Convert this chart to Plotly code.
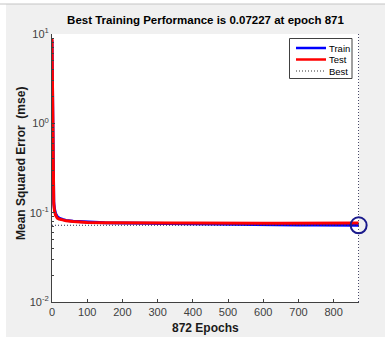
import plotly.graph_objects as go

epochs = [0, 1, 2, 3, 4, 5, 7, 10, 15, 20, 30, 40, 60, 80, 100, 150, 200, 250, 300,
          350, 400, 450, 500, 550, 600, 650, 700, 750, 800, 850, 871]
train = [8.5, 2.0, 0.6, 0.25, 0.16, 0.13, 0.11, 0.098, 0.090, 0.087, 0.084, 0.082, 0.080,
         0.079, 0.078, 0.077, 0.0765, 0.076, 0.0758, 0.0755, 0.0752, 0.0748, 0.074, 0.0735,
         0.0732, 0.073, 0.0729, 0.0728, 0.0727, 0.0725, 0.07227]
test = [9.0, 2.2, 0.65, 0.26, 0.16, 0.125, 0.105, 0.094, 0.087, 0.085, 0.083, 0.081, 0.0795,
        0.0785, 0.0778, 0.0772, 0.0768, 0.0765, 0.0765, 0.0766, 0.0768, 0.0770, 0.0768,
        0.0765, 0.0763, 0.0762, 0.0763, 0.0764, 0.0765, 0.0766, 0.0767]
best_epoch = 871
best_perf = 0.07227
n_epochs = 872
x_ticks = [0, 100, 200, 300, 400, 500, 600, 700, 800]
y_ticks = [0.01, 0.1, 1, 10]
y_ticktext = ["10<sup>-2</sup>", "10<sup>-1</sup>", "10<sup>0</sup>", "10<sup>1</sup>"]
y_minor = [0.02, 0.03, 0.04, 0.05, 0.06, 0.07, 0.08, 0.09,
           0.2, 0.3, 0.4, 0.5, 0.6, 0.7, 0.8, 0.9,
           2, 3, 4, 5, 6, 7, 8, 9]
legend_names = ["Train", "Test", "Best"]
legend_colors = ["#0000ff", "#ff0000", "#333333"]

FONT = "Liberation Sans, Arial, sans-serif"
W, H = 385, 339
ml, mr, mt, mb = 52, 26, 34, 37
pw, ph = W - ml - mr, H - mt - mb


def px(xp):
    return (xp - ml) / pw


def py(yp):
    return (H - mb - yp) / ph


fig = go.Figure()
fig.add_trace(go.Scatter(x=epochs, y=train, mode="lines", name="Train",
                         line=dict(color="#0000ff", width=3)))
fig.add_trace(go.Scatter(x=epochs, y=test, mode="lines", name="Test",
                         line=dict(color="#ff0000", width=3)))
fig.add_trace(go.Scatter(x=[0, n_epochs, None, best_epoch, best_epoch],
                         y=[best_perf, best_perf, None, 0.01, 10],
                         mode="lines", name="Best",
                         line=dict(color="#2a2a50", width=1, dash="1px,2px")))
fig.add_trace(go.Scatter(x=[best_epoch], y=[best_perf], mode="markers",
                         cliponaxis=False,
                         marker=dict(symbol="circle-open", size=16,
                                     line=dict(color="#1a1a8c", width=2), color="#1a1a8c")))

shapes = [
    dict(type="rect", xref="paper", yref="paper", x0=px(0), x1=px(6), y0=py(H), y1=py(0),
         fillcolor="white", line=dict(width=0), layer="below"),
    dict(type="rect", xref="paper", yref="paper", x0=px(0), x1=px(W), y0=py(4), y1=py(0),
         fillcolor="white", line=dict(width=0), layer="below"),
    dict(type="rect", xref="paper", yref="paper", x0=px(0), x1=px(W), y0=py(H), y1=py(337),
         fillcolor="white", line=dict(width=0), layer="below"),
    dict(type="line", xref="paper", yref="paper", x0=px(0), x1=px(W), y0=py(4), y1=py(4),
         line=dict(color="#c4c4c4", width=1), layer="below"),
    # legend box
    dict(type="rect", xref="paper", yref="paper", x0=px(289.5), x1=px(352), y0=py(78.5), y1=py(38.5),
         fillcolor="white", line=dict(color="#404040", width=1), layer="above"),
]
annotations = []
legend_y = [48, 59.5, 71]
for name, col, ly in zip(legend_names, legend_colors, legend_y):
    if name == "Best":
        ln = dict(color="#333333", width=1, dash="1px,2px")
    else:
        ln = dict(color=col, width=2.5)
    shapes.append(dict(type="line", xref="paper", yref="paper", x0=px(296), x1=px(326),
                       y0=py(ly), y1=py(ly), line=ln, layer="above"))
    annotations.append(dict(text=name, xref="paper", yref="paper", x=px(327), y=py(ly),
                            xanchor="left", yanchor="middle", showarrow=False,
                            font=dict(size=9.5, color="#000000", family=FONT)))

annotations.append(dict(text="<b>Mean Squared Error  (mse)</b>", xref="paper", yref="paper",
                        x=px(21), y=py(164), textangle=-90, showarrow=False,
                        xanchor="center", yanchor="middle",
                        font=dict(size=12, color="#1a1a1a", family=FONT)))
annotations.append(dict(text="<b>872 Epochs</b>", xref="paper", yref="paper",
                        x=px(205.5), y=py(328), showarrow=False,
                        xanchor="center", yanchor="middle",
                        font=dict(size=12, color="#1a1a1a", family=FONT)))

fig.update_layout(
    width=W, height=H,
    margin=dict(l=ml, r=mr, t=mt, b=mb),
    paper_bgcolor="#f0f0f0", plot_bgcolor="white",
    font=dict(family=FONT, color="#262626", size=11),
    title=dict(text="<b>Best Training Performance is 0.07227 at epoch 871</b>",
               x=px(205.5), xref="paper", xanchor="center",
               y=1 - 20 / H, yanchor="middle",
               font=dict(size=11.5, color="#000000")),
    showlegend=False,
    shapes=shapes,
    annotations=annotations,
)
fig.update_xaxes(range=[0, n_epochs], tickvals=x_ticks, ticks="inside", ticklen=3,
                 tickcolor="#404040", showline=True, linecolor="#404040", linewidth=1,
                 showgrid=False, zeroline=False, automargin=False,
                 tickfont=dict(size=11, color="#404040"))
fig.update_yaxes(type="log", range=[-2, 1], tickvals=y_ticks, ticktext=y_ticktext,
                 ticks="inside", ticklen=3, tickcolor="#404040",
                 minor=dict(tickvals=y_minor, ticks="inside", ticklen=2, tickcolor="#404040"),
                 showline=True, linecolor="#404040", linewidth=1,
                 showgrid=False, zeroline=False, automargin=False,
                 tickfont=dict(size=11, color="#404040"))

fig.write_html("out.html", config={"displayModeBar": False},
               post_script="document.body.style.margin='0';document.body.style.overflow='hidden';")
